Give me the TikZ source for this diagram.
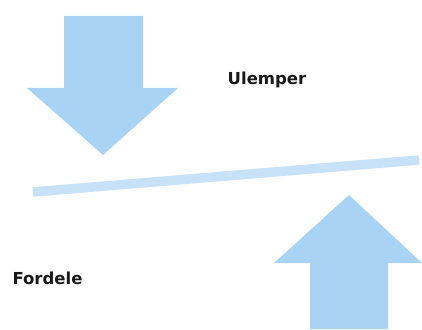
\documentclass[tikz,border=0pt]{standalone}
\usepackage{fontspec}
\setmainfont{DejaVu Sans}
\begin{document}
\begin{tikzpicture}[x=1pt,y=1pt,
  bigarrow/.style={fill=arrowblue, draw=none},
  label/.style={font=\bfseries\fontsize{16.5}{18}\selectfont, text=black!90, inner sep=0pt}]
\definecolor{arrowblue}{HTML}{A9D3F5}
\definecolor{barblue}{HTML}{C6E1F8}
\useasboundingbox (0,0) rectangle (422,329);
% downward arrow (drawbacks)
\fill[bigarrow] (64,313) -- (143,313) -- (143,241) -- (178,241) -- (103,174)
  -- (27,241) -- (64,241) -- cycle;
% upward arrow (advantages)
\fill[bigarrow] (310,0) -- (388,0) -- (388,66) -- (422,66) -- (349,134)
  -- (274,66) -- (310,66) -- cycle;
% tilted balance bar
\coordinate (barL) at (33,137);
\coordinate (barR) at (419,169);
\draw[barblue, line width=9.5pt] (barL) -- (barR);
% labels
\node[label] (ulemper) at (267,249) {Ulemper};
\node[label] (fordele) at (47.5,51) {Fordele};
\end{tikzpicture}
\end{document}
